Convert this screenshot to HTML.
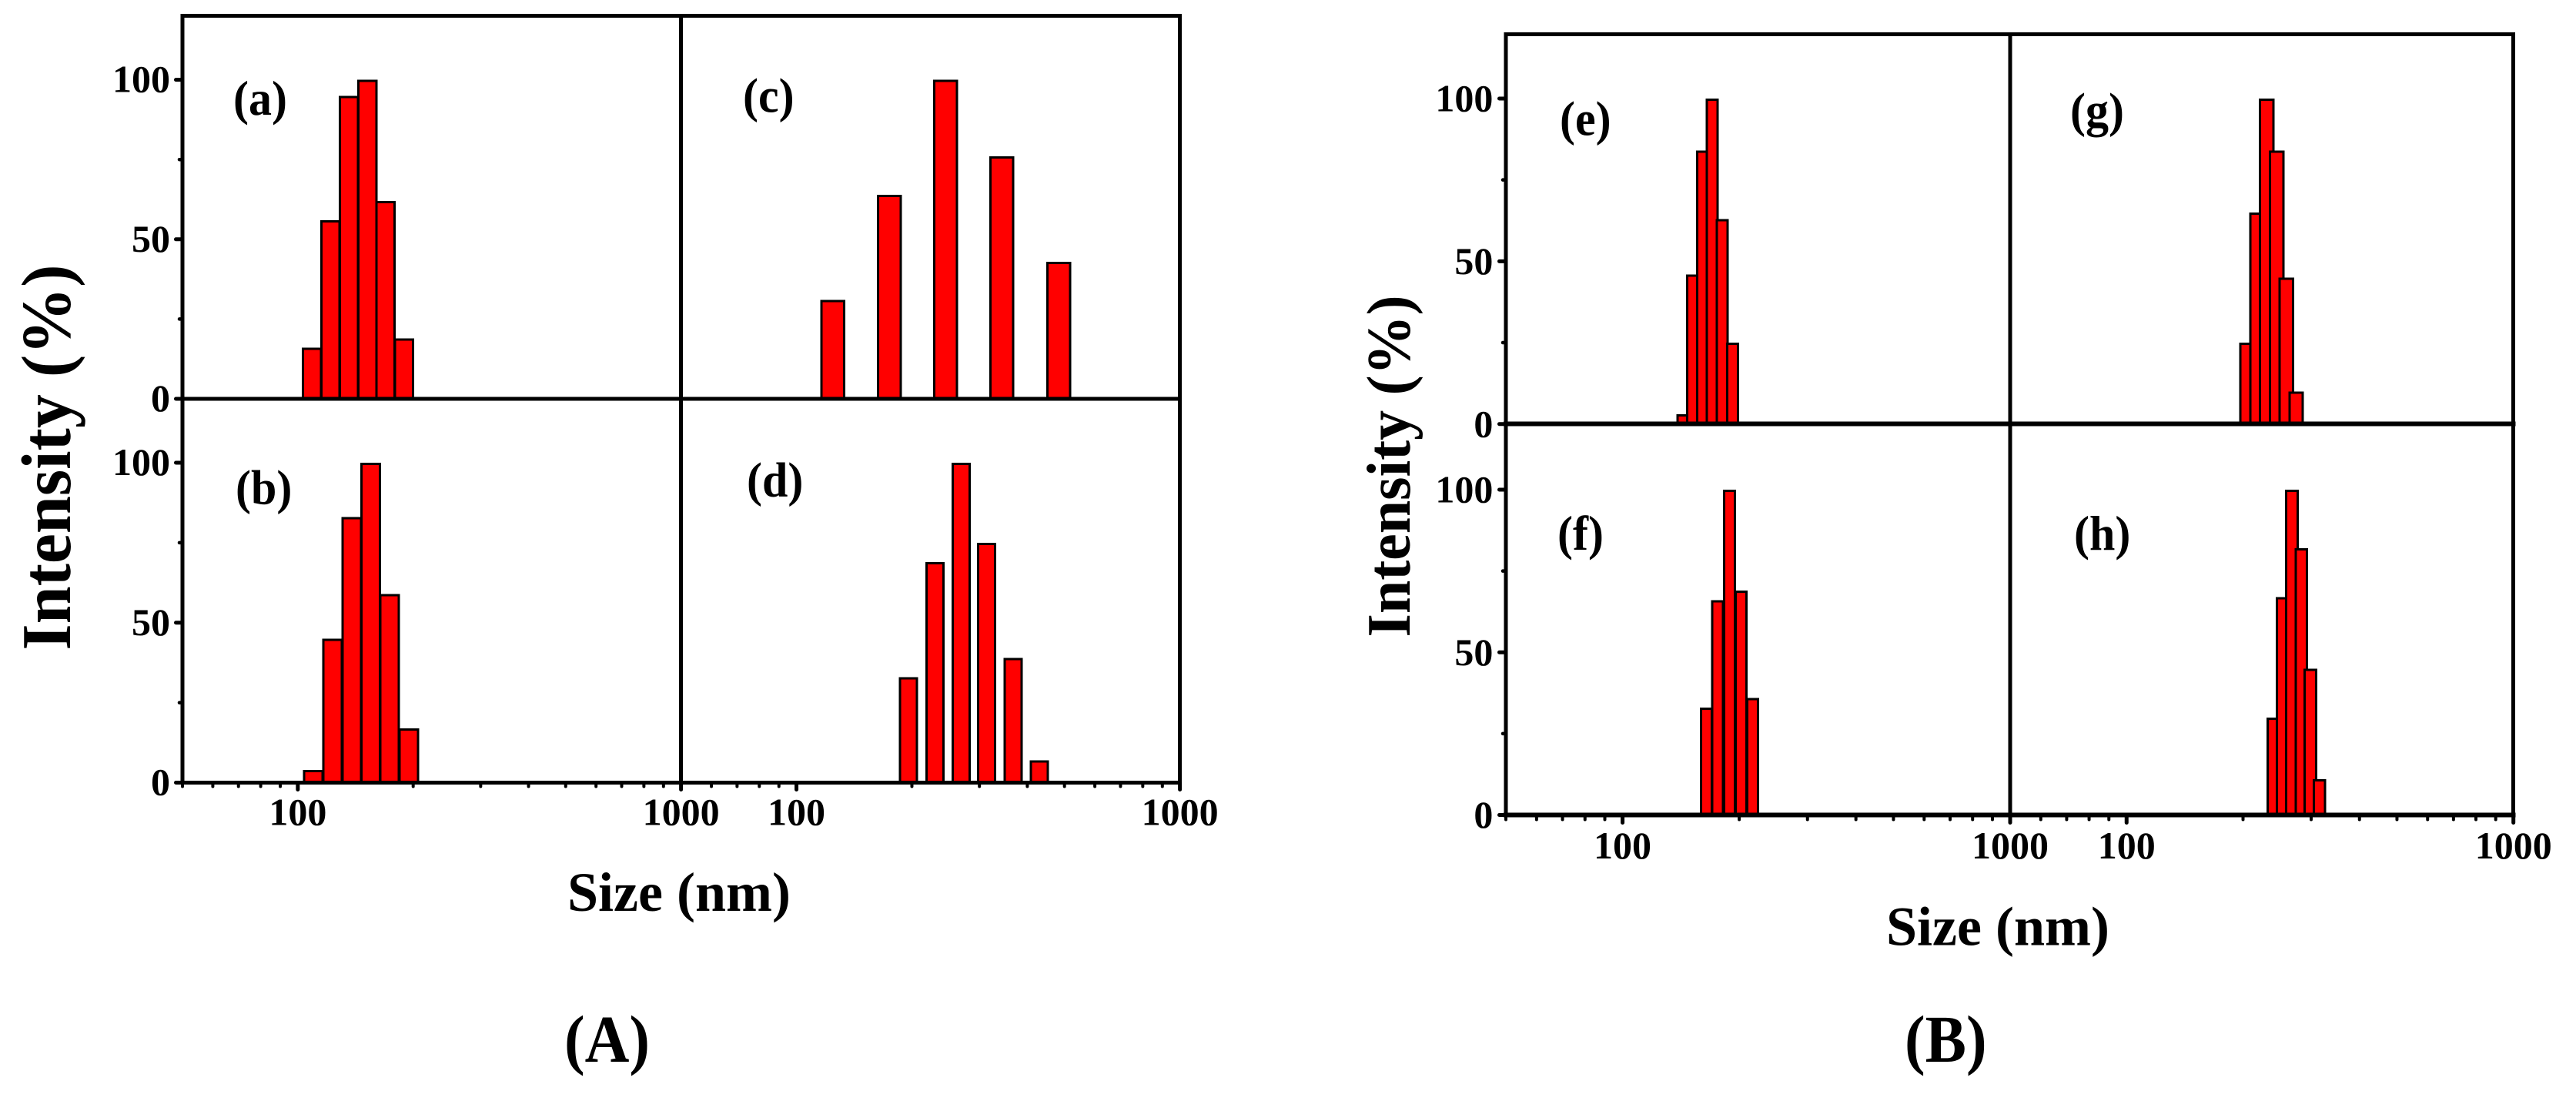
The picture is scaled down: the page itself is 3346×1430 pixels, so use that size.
<!DOCTYPE html>
<html lang="en">
<head>
<meta charset="utf-8">
<title>Size distribution histograms</title>
<style>
html,body{margin:0;padding:0;background:#fff;}
svg{display:block;}
text{font-family:"Liberation Serif",serif;font-weight:bold;fill:#000;}
.pl{font-size:60px;}
.tick{font-size:50px;}
</style>
</head>
<body>
<svg id="chart" xmlns="http://www.w3.org/2000/svg" width="3346" height="1430" viewBox="0 0 3346 1430">
  <rect x="0" y="0" width="3346" height="1430" fill="#fff"/>
  <g id="plots"></g>
  <g id="labels">
    <text transform="translate(91,844.6) rotate(-90) scale(1,1.03)" font-size="88">Intensity (%)</text>
    <text transform="translate(1831,827.5) rotate(-90) scale(1,1.03)" font-size="78">Intensity (%)</text>
    <text x="737" y="1183" font-size="72">Size (nm)</text>
    <text x="2450" y="1227.7" font-size="72">Size (nm)</text>
    <text transform="translate(733,1379) scale(1,1.08)" font-size="80">(A)</text>
    <text transform="translate(2474,1379) scale(1,1.08)" font-size="80">(B)</text>
    <text class="pl" transform="translate(303,149) scale(1,1.06)">(a)</text>
    <text class="pl" transform="translate(306,654.6) scale(1,1.06)">(b)</text>
    <text class="pl" transform="translate(965,145.7) scale(1,1.06)">(c)</text>
    <text class="pl" transform="translate(970,644.6) scale(1,1.06)">(d)</text>
    <text class="pl" transform="translate(2026,175.4) scale(1,1.06)">(e)</text>
    <text class="pl" transform="translate(2023,714) scale(1,1.06)">(f)</text>
    <text class="pl" transform="translate(2689,164.6) scale(1,1.06)">(g)</text>
    <text class="pl" transform="translate(2694,714) scale(1,1.06)">(h)</text>
  </g>
</svg>
<script>
// Data: bin centre (nm) and intensity (%) per panel
const sizesA = [108.9, 121.7, 136.0, 151.8, 169.4, 189.3];
const valuesA = [16, 56, 95, 100, 62, 19];
const sizesB = [109.9, 123.2, 138.2, 154.8, 173.6, 194.6];
const valuesB = [4, 45, 83, 100, 59, 17];
const sizesC = [124.3, 174.6, 244.7, 342.8, 482.7];
const valuesC = [31, 64, 100, 76, 43];
const sizesD = [195.9, 229.6, 268.9, 313.1, 367.0, 429.8];
const valuesD = [33, 69, 100, 75, 39, 7];
const sizesE = [143.3, 151.7, 160.7, 170.4, 180.9, 192.2];
const valuesE = [3, 46, 84, 100, 63, 25];
const sizesF = [164.7, 175.9, 188.8, 202.2, 216.5];
const valuesF = [33, 66, 100, 69, 36];
const sizesG = [204.6, 217.3, 230.4, 244.3, 258.8, 274.3];
const valuesG = [25, 65, 100, 84, 45, 10];
const sizesH = [239.4, 253.2, 267.7, 283.1, 298.5, 315.2];
const valuesH = [30, 67, 100, 82, 45, 11];

// Axis tick values and labels
const yMajorTicks = [0, 50, 100];
const yMinorTicks = [25, 75];
const xMajorTicks = [100, 1000];
const xMinorTicks = [50, 60, 70, 80, 90, 200, 300, 400, 500, 600, 700, 800, 900];

const NS = 'http://www.w3.org/2000/svg';
const root = document.getElementById('plots');
const X_MIN = 50, X_MAX = 1000;

function make(tag, parent, attrs) {
  const n = document.createElementNS(NS, tag);
  for (const k in attrs) n.setAttribute(k, attrs[k]);
  parent.appendChild(n);
  return n;
}
function xScale(col, s) {
  const t = (Math.log10(s) - Math.log10(X_MIN)) / (Math.log10(X_MAX) - Math.log10(X_MIN));
  return col.x0 + t * (col.x1 - col.x0);
}
function yScale(row, v) {
  return row.base - v / 100 * (row.base - row.y100);
}

function drawBars(parent, name, col, row, sizes, values, outerW) {
  const sw = 3;
  const g = make('g', parent, {});
  
  
  sizes.forEach(function (s, i) {
    const cx = xScale(col, s);
    const top = yScale(row, values[i]);
    const r = make('rect', g, {
      x: cx - outerW / 2 + sw / 2,
      y: top + sw / 2,
      width: outerW - sw,
      height: Math.max(row.base - top - sw / 2, 0),
      fill: '#ff0000',
      stroke: '#000',
      'stroke-width': sw,
      'shape-rendering': 'crispEdges'
    });
    
    
  });
}

function drawFigure(fig) {
  const group = make('g', root, {});
  
  

  fig.panels.forEach(function (p) {
    drawBars(group, p.name, fig.cols[p.col], fig.rows[p.row], p.sizes, p.values, p.barWidth);
  });

  const x0 = fig.cols[0].x0, xm = fig.cols[0].x1, x1 = fig.cols[1].x1;
  const top = fig.top, bottom = fig.rows[1].base, mid = fig.rows[0].base;

  // frame lines
  const frame = make('g', group, { stroke: '#000', fill: 'none', 'stroke-linecap': 'square', 'shape-rendering': 'crispEdges' });
  
  
  [x0, xm, x1].forEach(function (x, i) {
    const l = make('line', frame, { x1: x, y1: top, x2: x, y2: bottom, 'stroke-width': 5 });
    
    
  });
  const tl = make('line', frame, { x1: x0, y1: top, x2: x1, y2: top, 'stroke-width': 5 });
  
  
  [mid, bottom].forEach(function (y, i) {
    const l = make('line', frame, { x1: x0, y1: y, x2: x1, y2: y, 'stroke-width': fig.baseStroke });
    
    
  });

  // y ticks and labels
  fig.rows.forEach(function (row, ri) {
    yMajorTicks.forEach(function (v) {
      const y = yScale(row, v);
      const t = make('line', group, { x1: x0, y1: y, x2: x0 - 8.5, y2: y, stroke: '#000', 'stroke-width': 5, 'stroke-linecap': 'round' });
      
      
      const lab = make('text', group, { x: fig.yLabelX, y: y + fig.yLabelDy, 'text-anchor': 'end', class: 'tick' });
      lab.textContent = String(v);
      
      
    });
    yMinorTicks.forEach(function (v) {
      const y = yScale(row, v);
      const t = make('line', group, { x1: x0, y1: y, x2: x0 - 4, y2: y, stroke: '#000', 'stroke-width': 4.5, 'stroke-linecap': 'round' });
      
      
    });
  });

  // x ticks and labels
  fig.cols.forEach(function (col) {
    xMajorTicks.forEach(function (v) {
      const x = xScale(col, v);
      const t = make('line', group, { x1: x, y1: bottom, x2: x, y2: bottom + fig.majorLen, stroke: '#000', 'stroke-width': 5, 'stroke-linecap': 'round' });
      
      
      const lab = make('text', group, { x: x, y: fig.xLabelY, 'text-anchor': 'middle', class: 'tick' });
      lab.textContent = String(v);
      
      
    });
    xMinorTicks.forEach(function (v) {
      const x = xScale(col, v);
      const t = make('line', group, { x1: x, y1: bottom, x2: x, y2: bottom + fig.minorLen, stroke: '#000', 'stroke-width': 4, 'stroke-linecap': 'round' });
      
      
    });
  });
}

drawFigure({
  name: 'figure-a',
  top: 20.4,
  baseStroke: 5,
  majorLen: 9,
  minorLen: 5,
  yLabelX: 221,
  yLabelDy: 16,
  xLabelY: 1071.5,
  cols: [{ x0: 237, x1: 884.6 }, { x0: 884.6, x1: 1532.6 }],
  rows: [{ base: 518, y100: 103.6 }, { base: 1016.5, y100: 601 }],
  panels: [
    { name: 'panel-a', col: 0, row: 0, sizes: sizesA, values: valuesA, barWidth: 26.5 },
    { name: 'panel-b', col: 0, row: 1, sizes: sizesB, values: valuesB, barWidth: 27 },
    { name: 'panel-c', col: 1, row: 0, sizes: sizesC, values: valuesC, barWidth: 32.5 },
    { name: 'panel-d', col: 1, row: 1, sizes: sizesD, values: valuesD, barWidth: 25 }
  ]
});

drawFigure({
  name: 'figure-b',
  top: 44.6,
  baseStroke: 6,
  majorLen: 10,
  minorLen: 6,
  yLabelX: 1939.4,
  yLabelDy: 16.7,
  xLabelY: 1115,
  cols: [{ x0: 1956, x1: 2611 }, { x0: 2611, x1: 3264.7 }],
  rows: [{ base: 550.7, y100: 128 }, { base: 1058.5, y100: 636 }],
  panels: [
    { name: 'panel-e', col: 0, row: 0, sizes: sizesE, values: valuesE, barWidth: 17 },
    { name: 'panel-f', col: 0, row: 1, sizes: sizesF, values: valuesF, barWidth: 17.2 },
    { name: 'panel-g', col: 1, row: 0, sizes: sizesG, values: valuesG, barWidth: 20.3 },
    { name: 'panel-h', col: 1, row: 1, sizes: sizesH, values: valuesH, barWidth: 17.8 }
  ]
});
</script>
</body>
</html>
